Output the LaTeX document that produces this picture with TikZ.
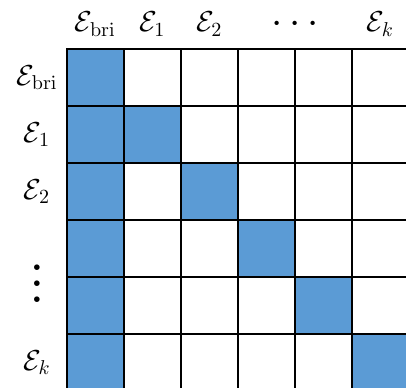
\documentclass[tikz,border=0pt]{standalone}
\usepackage{graphicx}
\usepackage{tikz}
\definecolor{cellblue}{RGB}{91, 155, 213}

\begin{document}
\begin{tikzpicture}[
  cell/.style={draw=black, line width=0.9pt, minimum size=1cm, inner sep=0pt, outer sep=0pt, fill=white},
  marked/.style={cell, fill=cellblue},
  collabel/.style={anchor=base, font=\Large, inner sep=0pt},
  rowlabel/.style={anchor=center, font=\Large, inner sep=0pt}
]
\clip (-1.17,-5.93) rectangle (5.95,0.86);
% grid of cells, first column and diagonal filled
\foreach \r in {1,...,6}{
  \foreach \c in {1,...,6}{
    \ifnum\c=1
      \node[marked] (c-\r-\c) at (\c-0.5,-\r+0.5) {};
    \else\ifnum\c=\r
      \node[marked] (c-\r-\c) at (\c-0.5,-\r+0.5) {};
    \else
      \node[cell] (c-\r-\c) at (\c-0.5,-\r+0.5) {};
    \fi\fi
  }
}
% column labels
\node[collabel] (top-bri) at (0.5,0.3) {$\mathcal{E}_{\mathrm{bri}}$};
\node[collabel] (top-1) at (1.5,0.3) {$\mathcal{E}_1$};
\node[collabel] (top-2) at (2.5,0.3) {$\mathcal{E}_2$};
\node[collabel] (top-dots) at (4,0.27) {\scalebox{1.4}{$\cdots$}};
\node[collabel] (top-k) at (5.5,0.3) {$\mathcal{E}_k$};
% row labels
\node[rowlabel] (left-bri) at (-0.52,-0.5) {$\mathcal{E}_{\mathrm{bri}}$};
\node[rowlabel] (left-1) at (-0.52,-1.5) {$\mathcal{E}_1$};
\node[rowlabel] (left-2) at (-0.52,-2.5) {$\mathcal{E}_2$};
\node[rowlabel] (left-dots) at (-0.52,-3.9) {\scalebox{2}{$\vdots$}};
\node[rowlabel] (left-k) at (-0.52,-5.5) {$\mathcal{E}_k$};
\end{tikzpicture}
\end{document}
